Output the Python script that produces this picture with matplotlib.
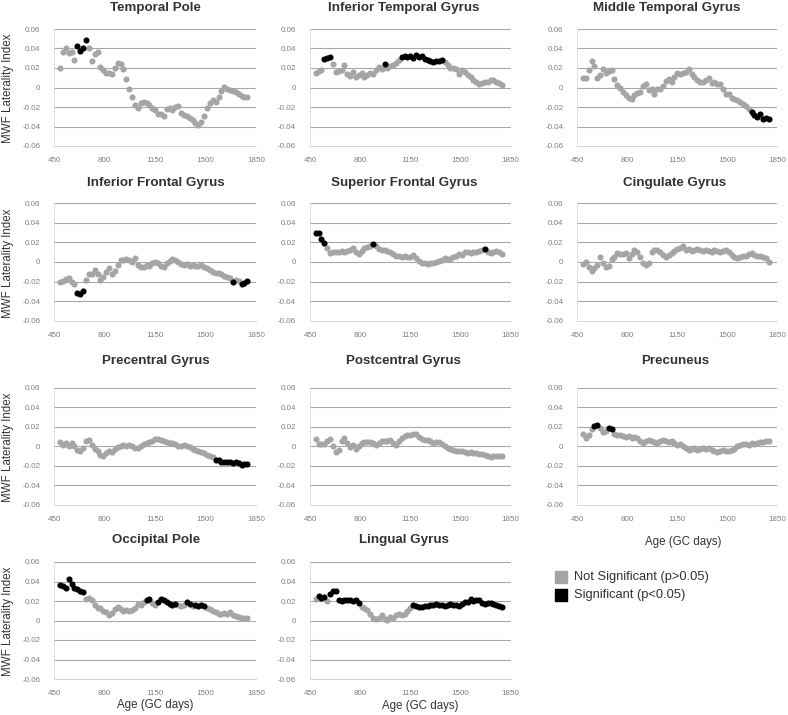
import matplotlib
matplotlib.use("Agg")
import matplotlib.pyplot as plt
from matplotlib.patches import Rectangle

plt.rcParams['font.family'] = ['Liberation Sans', 'DejaVu Sans']

# ---------------- data ----------------
AGES = [490, 510, 530, 550, 570, 590, 610, 630, 650, 670, 690, 710, 730, 750, 770, 790,
        810, 830, 850, 870, 890, 910, 930, 950, 970, 990, 1010, 1030, 1050, 1070, 1090,
        1110, 1130, 1150, 1170, 1190, 1210, 1230, 1250, 1270, 1290, 1310, 1330, 1350,
        1370, 1390, 1410, 1430, 1450, 1470, 1490, 1510, 1530, 1550, 1570, 1590, 1610,
        1630, 1650, 1670, 1690, 1710, 1730, 1750, 1770, 1790]

TITLES = ["Temporal Pole", "Inferior Temporal Gyrus", "Middle Temporal Gyrus",
          "Inferior Frontal Gyrus", "Superior Frontal Gyrus", "Cingulate Gyrus",
          "Precentral Gyrus", "Postcentral Gyrus", "Precuneus",
          "Occipital Pole", "Lingual Gyrus"]

temporal_pole = [0.020, 0.036, 0.040, 0.035, 0.036, 0.028, 0.043, 0.037, 0.041, 0.049,
                 0.040, 0.027, 0.034, 0.036, 0.021, 0.018, 0.015, 0.015, 0.014, 0.020,
                 0.025, 0.024, 0.019, 0.009, -0.002, -0.010, -0.018, -0.021, -0.016,
                 -0.015, -0.016, -0.018, -0.021, -0.023, -0.027, -0.027, -0.029, -0.022,
                 -0.021, -0.023, -0.020, -0.019, -0.026, -0.028, -0.029, -0.031, -0.033,
                 -0.036, -0.038, -0.035, -0.029, -0.021, -0.016, -0.013, -0.015, -0.010,
                 -0.004, 0.001, -0.002, -0.003, -0.004, -0.005, -0.007, -0.009, -0.010, -0.010]
inferior_temporal = [0.015, 0.017, 0.018, 0.029, 0.030, 0.031, 0.024, 0.016, 0.017, 0.018,
                     0.023, 0.014, 0.012, 0.016, 0.011, 0.013, 0.015, 0.011, 0.013, 0.015,
                     0.014, 0.018, 0.021, 0.019, 0.024, 0.020, 0.022, 0.023, 0.025, 0.028,
                     0.031, 0.032, 0.031, 0.032, 0.030, 0.033, 0.031, 0.032, 0.029, 0.028,
                     0.027, 0.026, 0.027, 0.027, 0.028, 0.026, 0.023, 0.020, 0.020, 0.019,
                     0.014, 0.018, 0.016, 0.013, 0.011, 0.008, 0.006, 0.004, 0.005, 0.006,
                     0.006, 0.008, 0.008, 0.006, 0.005, 0.003]
middle_temporal = [0.010, 0.010, 0.018, 0.027, 0.022, 0.010, 0.013, 0.019, 0.015, 0.017,
                   0.018, 0.009, 0.003, -0.001, -0.005, -0.008, -0.011, -0.012, -0.008,
                   -0.006, -0.005, 0.002, 0.004, -0.003, -0.002, -0.007, -0.002, -0.002,
                   0.002, 0.007, 0.009, 0.006, 0.011, 0.015, 0.014, 0.015, 0.016, 0.019,
                   0.014, 0.011, 0.008, 0.006, 0.006, 0.008, 0.010, 0.005, 0.006, 0.004,
                   0.004, -0.002, -0.007, -0.007, -0.011, -0.012, -0.013, -0.015, -0.017,
                   -0.019, -0.022, -0.025, -0.028, -0.030, -0.027, -0.032, -0.031, -0.032]
inferior_frontal = [-0.020, -0.019, -0.017, -0.016, -0.020, -0.022, -0.032, -0.033, -0.030,
                    -0.018, -0.012, -0.012, -0.008, -0.012, -0.018, -0.015, -0.010, -0.006,
                    -0.012, -0.009, -0.003, 0.002, 0.002, 0.003, 0.002, 0.000, 0.004, -0.003,
                    -0.005, -0.005, -0.003, -0.004, -0.001, 0.000, -0.001, -0.004, -0.005,
                    -0.001, 0.001, 0.003, 0.002, 0.000, -0.002, -0.003, -0.002, -0.004,
                    -0.003, -0.004, -0.004, -0.003, -0.005, -0.006, -0.008, -0.010, -0.011,
                    -0.011, -0.012, -0.014, -0.015, -0.016, -0.020, -0.018, -0.019, -0.022,
                    -0.021, -0.019]
superior_frontal = [0.030, 0.030, 0.023, 0.019, 0.014, 0.009, 0.010, 0.010, 0.010, 0.011,
                    0.010, 0.011, 0.012, 0.014, 0.010, 0.008, 0.011, 0.014, 0.015, 0.016,
                    0.018, 0.016, 0.013, 0.012, 0.012, 0.011, 0.010, 0.008, 0.006, 0.006,
                    0.005, 0.006, 0.005, 0.005, 0.007, 0.004, 0.001, -0.001, -0.001, -0.002,
                    -0.001, -0.001, 0.000, 0.001, 0.002, 0.004, 0.003, 0.003, 0.005, 0.006,
                    0.008, 0.007, 0.010, 0.010, 0.009, 0.010, 0.010, 0.011, 0.012, 0.013,
                    0.010, 0.009, 0.010, 0.011, 0.010, 0.008]
cingulate = [-0.002, 0.000, -0.005, -0.009, -0.006, -0.003, 0.005, -0.001, -0.005, -0.004,
             0.003, 0.005, 0.009, 0.008, 0.008, 0.009, 0.004, 0.008, 0.012, 0.010, 0.005,
             -0.001, -0.003, -0.001, 0.010, 0.012, 0.012, 0.010, 0.007, 0.005, 0.007, 0.009,
             0.011, 0.013, 0.014, 0.016, 0.012, 0.013, 0.011, 0.012, 0.013, 0.012, 0.011,
             0.012, 0.011, 0.010, 0.012, 0.011, 0.010, 0.011, 0.012, 0.010, 0.007, 0.005,
             0.004, 0.005, 0.006, 0.006, 0.008, 0.009, 0.007, 0.006, 0.006, 0.005, 0.004, 0.000]
precentral = [0.004, 0.001, 0.003, 0.000, 0.003, 0.000, -0.004, -0.005, -0.002, 0.005, 0.007,
              0.001, -0.003, -0.005, -0.009, -0.010, -0.007, -0.005, -0.006, -0.003, -0.001,
              0.000, 0.001, 0.000, 0.001, 0.000, -0.002, -0.002, 0.000, 0.002, 0.003, 0.004,
              0.005, 0.008, 0.008, 0.006, 0.005, 0.004, 0.003, 0.003, 0.002, 0.000, 0.000,
              0.001, 0.000, -0.001, -0.003, -0.004, -0.005, -0.006, -0.007, -0.009, -0.010,
              -0.011, -0.014, -0.014, -0.016, -0.016, -0.016, -0.016, -0.017, -0.016, -0.017,
              -0.019, -0.018, -0.018]
postcentral = [0.008, 0.002, 0.002, 0.002, 0.005, 0.008, 0.000, -0.006, -0.004, 0.005, 0.009,
               0.003, -0.001, 0.001, -0.003, 0.000, 0.003, 0.004, 0.004, 0.004, 0.003, 0.001,
               0.003, 0.005, 0.005, 0.005, 0.006, 0.003, 0.001, 0.005, 0.009, 0.011, 0.012,
               0.012, 0.013, 0.013, 0.010, 0.008, 0.007, 0.006, 0.005, 0.003, 0.004, 0.004,
               0.002, 0.000, -0.002, -0.003, -0.004, -0.005, -0.005, -0.005, -0.006, -0.007,
               -0.006, -0.007, -0.007, -0.008, -0.008, -0.009, -0.010, -0.011, -0.010, -0.010,
               -0.010, -0.010]
precuneus = [0.013, 0.009, 0.012, 0.018, 0.021, 0.022, 0.019, 0.015, 0.016, 0.019, 0.018,
             0.013, 0.012, 0.012, 0.011, 0.010, 0.011, 0.009, 0.010, 0.009, 0.005, 0.003,
             0.005, 0.006, 0.005, 0.004, 0.003, 0.005, 0.007, 0.005, 0.004, 0.005, 0.003,
             0.001, 0.002, 0.000, -0.002, -0.004, -0.003, -0.002, -0.004, -0.003, -0.002,
             -0.003, -0.002, -0.004, -0.005, -0.006, -0.005, -0.004, -0.005, -0.005, -0.004,
             -0.003, 0.000, 0.001, 0.002, 0.002, 0.001, 0.003, 0.002, 0.003, 0.004, 0.004,
             0.005, 0.005]
occipital_pole = [0.036, 0.035, 0.033, 0.043, 0.037, 0.033, 0.032, 0.030, 0.029, 0.022,
                  0.023, 0.021, 0.016, 0.013, 0.013, 0.010, 0.009, 0.006, 0.008, 0.012,
                  0.014, 0.012, 0.010, 0.011, 0.010, 0.011, 0.013, 0.017, 0.016, 0.019,
                  0.021, 0.022, 0.018, 0.016, 0.019, 0.022, 0.021, 0.019, 0.017, 0.016,
                  0.017, 0.016, 0.015, 0.016, 0.019, 0.017, 0.015, 0.016, 0.015, 0.016,
                  0.015, 0.013, 0.012, 0.010, 0.009, 0.007, 0.007, 0.008, 0.007, 0.009,
                  0.006, 0.005, 0.004, 0.003, 0.003, 0.003]
lingual = [0.022, 0.025, 0.023, 0.024, 0.020, 0.027, 0.030, 0.030, 0.021, 0.020, 0.021,
           0.021, 0.021, 0.020, 0.021, 0.018, 0.014, 0.013, 0.011, 0.007, 0.003, 0.002,
           0.003, 0.006, 0.002, 0.001, 0.004, 0.003, 0.006, 0.007, 0.006, 0.007, 0.010,
           0.013, 0.016, 0.015, 0.014, 0.014, 0.015, 0.015, 0.016, 0.016, 0.017, 0.016,
           0.016, 0.015, 0.016, 0.017, 0.016, 0.016, 0.015, 0.017, 0.019, 0.019, 0.022,
           0.020, 0.021, 0.021, 0.018, 0.017, 0.018, 0.018, 0.017, 0.016, 0.015, 0.014]

SERIES = [temporal_pole, inferior_temporal, middle_temporal, inferior_frontal,
          superior_frontal, cingulate, precentral, postcentral, precuneus,
          occipital_pole, lingual]

# age ranges (inclusive) where p < 0.05
SIG_RANGES = [
    [(610, 670)],
    [(550, 590), (970, 970), (1090, 1370)],
    [(1670, 1790)],
    [(610, 650), (1690, 1690), (1750, 1790)],
    [(490, 550), (890, 890), (1670, 1670)],
    [],
    [(1570, 1790)],
    [],
    [(570, 590), (670, 690)],
    [(490, 650), (1090, 1110), (1170, 1290), (1370, 1390), (1430, 1490)],
    [(510, 550), (590, 790), (1170, 1790)],
]

XTICKS = [450, 800, 1150, 1500, 1850]
YTICKS = [-0.06, -0.04, -0.02, 0, 0.02, 0.04, 0.06]
YTICKLABELS = ["-0.06", "-0.04", "-0.02", "0", "0.02", "0.04", "0.06"]
LEGEND_LABELS = ["Not Significant (p>0.05)", "Significant (p<0.05)"]

# ---------------- layout ----------------
FW, FH = 788, 715
fig = plt.figure(figsize=(FW / 100, FH / 100), dpi=100)

COL_X = [(54.3, 256.0), (310.0, 510.7), (577.3, 777.3)]
ROW_Y = [(29.0, 146.0), (203.3, 320.7), (387.7, 505.0), (562.0, 679.0)]
TITLE_X = [155.6, 403.8, 667.0, 155.6, 403.8, 675.0, 155.6, 403.8, 675.0, 155.6, 403.8]
TITLE_Y = [8.5, 183.3, 361.0, 540.0]

GREY = "#a5a5a5"
BLACK = "#000000"
TXT = "#333333"


def px_rect(l, t, r, b):
    return [l / FW, 1 - b / FH, (r - l) / FW, (b - t) / FH]


for i, (title, vals, sig) in enumerate(zip(TITLES, SERIES, SIG_RANGES)):
    row, col = divmod(i, 3)
    l, r = COL_X[col]
    t, b = ROW_Y[row]
    ax = fig.add_axes(px_rect(l, t, r, b))
    is_sig = [any(a0 <= a <= a1 for a0, a1 in sig) for a in AGES]
    gx = [a for a, s in zip(AGES, is_sig) if not s]
    gy = [v for v, s in zip(vals, is_sig) if not s]
    bx = [a for a, s in zip(AGES, is_sig) if s]
    by = [v for v, s in zip(vals, is_sig) if s]
    ax.plot(gx, gy, 'o', color=GREY, ms=4.4, mew=0, zorder=3)
    ax.plot(bx, by, 'o', color=BLACK, ms=4.4, mew=0, zorder=4)
    ax.set_xlim(450, 1850)
    ax.set_ylim(-0.06, 0.06)
    ax.set_xticks(XTICKS)
    ax.set_xticklabels([str(x) for x in XTICKS])
    ax.set_yticks(YTICKS)
    ax.set_yticklabels(YTICKLABELS)
    ax.tick_params(axis='both', length=0, labelsize=5.8, labelcolor="#808080")
    ax.tick_params(axis='y', pad=10)
    ax.tick_params(axis='x', pad=8)
    ax.yaxis.grid(True, color="#a8a8a8", lw=0.8)
    ax.get_ygridlines()[0].set_visible(False)
    ax.set_axisbelow(True)
    for s in ("top", "right"):
        ax.spines[s].set_visible(False)
    ax.spines["left"].set_color("#dddddd")
    ax.spines["left"].set_linewidth(0.6)
    ax.spines["bottom"].set_color("#d6d6d6")
    ax.spines["bottom"].set_linewidth(0.7)
    fig.text(TITLE_X[i] / FW, 1 - TITLE_Y[row] / FH, title, ha='center', va='center',
             fontsize=9.6, fontweight='bold', color=TXT)
    if col == 0:
        fig.text(8.5 / FW, 1 - ((t + b) / 2 + 1) / FH, "MWF Laterality Index",
                 rotation=90, ha='center', va='center', fontsize=8.3, color=TXT)

# x-axis labels
for xc, yc in [(683.0, 541.7), (155.3, 705.0), (420.0, 706.0)]:
    fig.text(xc / FW, 1 - yc / FH, "Age (GC days)", ha='center', va='center',
             fontsize=8.3, color=TXT)

# legend
for (yc, colr, lab) in [(577.0, GREY, LEGEND_LABELS[0]), (595.0, BLACK, LEGEND_LABELS[1])]:
    fig.patches.append(Rectangle((555 / FW, 1 - (yc + 6) / FH), 12 / FW, 12 / FH,
                                 transform=fig.transFigure, color=colr, figure=fig))
    fig.text(574 / FW, 1 - yc / FH, lab, ha='left', va='center', fontsize=9.3, color=TXT)

fig.savefig("out.png", dpi=100)
